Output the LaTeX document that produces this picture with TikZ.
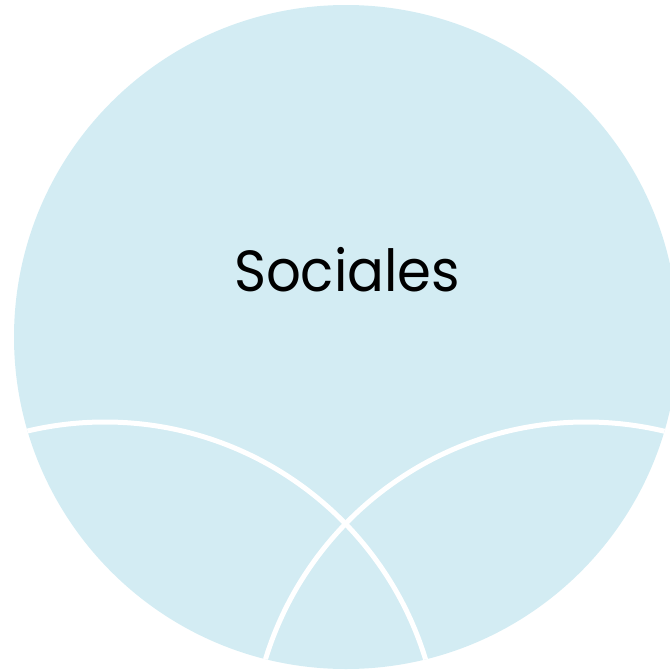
\documentclass[tikz,border=0pt]{standalone}
\usepackage{fontspec}
\setmainfont{Poppins}
\definecolor{venn}{HTML}{D3ECF3}
\begin{document}
\begin{tikzpicture}[x=1pt,y=-1pt,
  sep/.style={draw=white,line width=5pt},
  lbl/.style={font=\fontsize{58}{68}\selectfont,text=black,xscale=0.94}]
\useasboundingbox (0,0) rectangle (670,670);
\clip (0,0) rectangle (670,670);
\fill[venn] (346,337) circle[radius=332];
\begin{scope}
  \clip (346,337) circle[radius=332];
  \draw[sep] (105,757) circle[radius=335];
  \draw[sep] (586,757) circle[radius=335];
\end{scope}
\node[lbl] (sociales) at (347,270) {Sociales};
\end{tikzpicture}
\end{document}
